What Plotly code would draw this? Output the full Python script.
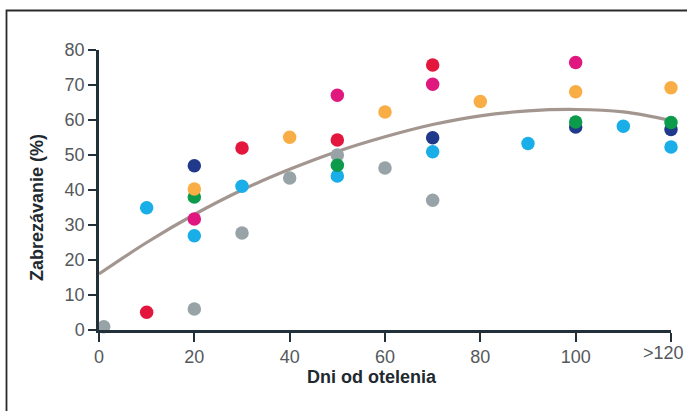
import plotly.graph_objects as go

# ---- data ----
tick_vals = [0, 20, 40, 60, 80, 100, 120]
tick_text = ["0", "20", "40", "60", "80", "100", ">120"]
y_ticks = [0, 10, 20, 30, 40, 50, 60, 70, 80]

gray_x = [1, 20, 30, 40, 50, 60, 70]
gray_y = [0.9, 6, 27.7, 43.4, 50, 46.3, 37.1]

navy_x = [20, 70, 100, 120]
navy_y = [46.9, 54.9, 58, 57.3]

cyan_x = [10, 20, 30, 50, 70, 90, 110, 120]
cyan_y = [34.9, 26.9, 41.1, 44, 50.9, 53.3, 58.2, 52.3]

green_x = [20, 50, 100, 120]
green_y = [38, 47.1, 59.4, 59.3]

magenta_x = [20, 50, 70, 100]
magenta_y = [31.7, 67.1, 70.2, 76.4]

orange_x = [20, 40, 60, 80, 100, 120]
orange_y = [40.3, 55.1, 62.3, 65.3, 68.1, 69.2]

red_x = [10, 30, 50, 70]
red_y = [5.1, 52, 54.3, 75.7]

trend_x = [0, 10, 20, 30, 40, 50, 60, 70, 80, 90, 100, 110, 120]
trend_y = [16, 25, 33, 40, 45.9, 51, 55.2, 58.7, 61.2, 62.6, 63, 62.3, 59.8]

# ---- styling ----
colors = {
    "gray": "#98a3a8",
    "navy": "#20398a",
    "cyan": "#19aee8",
    "green": "#0c9a4b",
    "magenta": "#e0177f",
    "orange": "#f9ad45",
    "red": "#e3173e",
}
axis_color = "#22303a"
label_color = "#55595c"

fig = go.Figure()

fig.add_trace(go.Scatter(
    x=trend_x, y=trend_y, mode="lines",
    line=dict(color="#a3958f", width=3.2, shape="spline", smoothing=1.0),
    hoverinfo="skip", cliponaxis=False, showlegend=False,
))

series = [
    ("gray", gray_x, gray_y),
    ("navy", navy_x, navy_y),
    ("cyan", cyan_x, cyan_y),
    ("green", green_x, green_y),
    ("magenta", magenta_x, magenta_y),
    ("orange", orange_x, orange_y),
    ("red", red_x, red_y),
]
for name, xs, ys in series:
    fig.add_trace(go.Scatter(
        x=xs, y=ys, mode="markers", name=name,
        marker=dict(color=colors[name], size=13.5, line=dict(width=0)),
        cliponaxis=False, showlegend=False,
    ))

L, R, T, B = 99, 16, 50, 81
W, H = 687, 411
pw, ph = W - L - R, H - T - B

def px_x(p):
    return (p - L) / pw

def px_y(p):
    return (H - B - p) / ph

title_font = dict(family="Liberation Sans Narrow, Liberation Sans, Arial", size=18, color="#1f2a30")

# last tick label is placed as an annotation so that it can sit flush with the edge
axis_ticktext = tick_text[:-1] + [""]

fig.update_layout(
    width=W, height=H,
    margin=dict(l=L, r=R, t=T, b=B, pad=0, autoexpand=False),
    paper_bgcolor="white", plot_bgcolor="white",
    showlegend=False,
    font=dict(family="Liberation Sans, Arial, sans-serif", color=label_color, size=18),
    xaxis=dict(
        range=[0, 120], tickvals=tick_vals, ticktext=axis_ticktext,
        showgrid=False, zeroline=False, automargin=False,
        showline=True, linecolor=axis_color, linewidth=2.5,
        ticks="outside", ticklen=9, tickwidth=2, tickcolor=axis_color,
        tickfont=dict(size=18, color=label_color),
    ),
    yaxis=dict(
        range=[0, 80], tickvals=y_ticks, automargin=False,
        showgrid=False, zeroline=False,
        showline=True, linecolor=axis_color, linewidth=2.5,
        ticks="outside", ticklen=8, tickwidth=2, tickcolor=axis_color,
        tickfont=dict(size=18, color=label_color),
    ),
    annotations=[
        dict(text=tick_text[-1], xref="x", yref="paper",
             x=tick_vals[-1], y=px_y(353), xanchor="right", yanchor="middle",
             xshift=15, showarrow=False,
             font=dict(family="Liberation Sans, Arial, sans-serif", size=18, color=label_color)),
        dict(text="<b>Dni od otelenia</b>", xref="paper", yref="paper",
             x=px_x(372), y=px_y(377), xanchor="center", yanchor="middle",
             showarrow=False, font=title_font),
        dict(text="<b>Zabrezávanie (%)</b>", xref="paper", yref="paper",
             x=px_x(37), y=px_y(208), xanchor="center", yanchor="middle",
             textangle=-90, showarrow=False, font=title_font),
    ],
    shapes=[
        dict(type="rect", xref="paper", yref="paper",
             x0=px_x(6.5), x1=px_x(760), y0=px_y(10.5), y1=px_y(480),
             line=dict(color="#2b2b2b", width=1.8), fillcolor="rgba(0,0,0,0)", layer="below"),
    ],
)

fig.write_html(
    "out.html",
    config={"displayModeBar": False},
    post_script="document.body.style.margin='0px';document.body.style.overflow='hidden';",
)
